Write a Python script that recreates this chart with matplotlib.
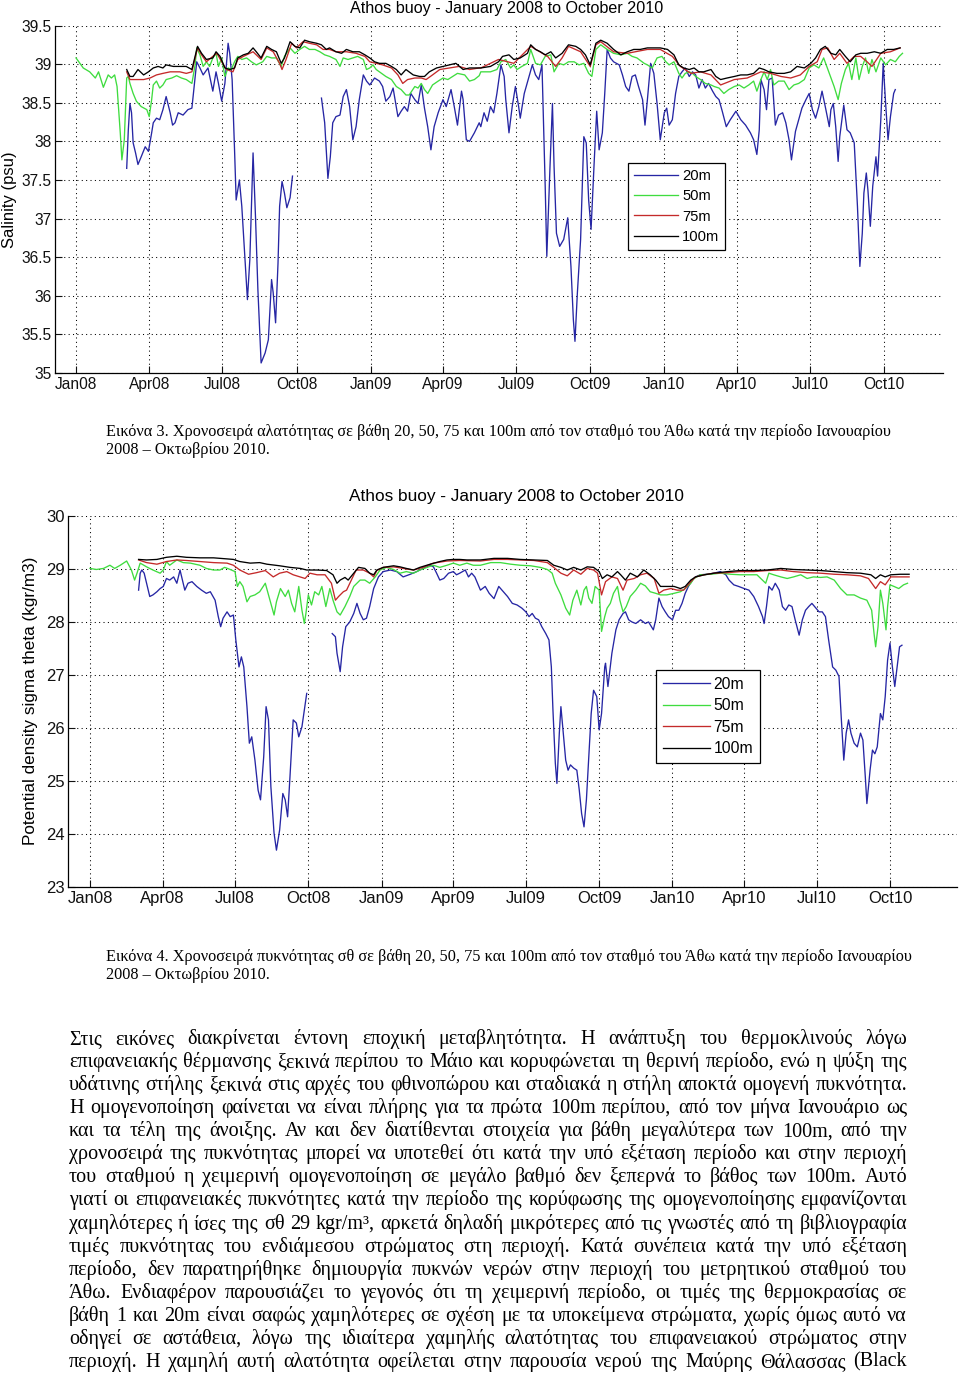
import numpy as np
import matplotlib
matplotlib.use('Agg')
import matplotlib.pyplot as plt
from matplotlib.lines import Line2D

plt.rcParams['font.family'] = ['Liberation Sans', 'DejaVu Sans']
NaN = float('nan')

# ---------------- data (day offset from 2008-01-01, value) ----------------
tick_dates = ['2008-01-01', '2008-04-01', '2008-07-01', '2008-10-01', '2009-01-01', '2009-04-01',
              '2009-07-01', '2009-10-01', '2010-01-01', '2010-04-01', '2010-07-01', '2010-10-01']
tick_labels = ['Jan08', 'Apr08', 'Jul08', 'Oct08', 'Jan09', 'Apr09',
               'Jul09', 'Oct09', 'Jan10', 'Apr10', 'Jul10', 'Oct10']
series_labels = ['20m', '50m', '75m', '100m']
series_colors = ['#2626a4', '#3fdc3f', '#c42a2a', '#000000']

sal_20m = [(63,37.65),(65,38.15),(67,38.49),(69,38.37),(71,37.98),(74,37.85),(77,37.70),(81,37.80),(86,37.93),
 (90,37.87),(94,38.11),(96,38.24),(100,38.30),(104,38.28),(108,38.41),(112,38.58),(117,38.37),(120,38.21),
 (123,38.24),(127,38.37),(133,38.34),(139,38.41),(144,38.43),(150,39.03),(154,38.95),(158,38.86),(164,38.95),
 (170,38.65),(174,38.90),(177,38.75),(181,38.52),(185,38.75),(189,39.27),(191,39.14),(194,38.80),(197,37.89),
 (199,37.24),(203,37.50),(206,37.16),(210,36.47),(213,35.95),(216,36.47),(220,37.85),(223,37.03),(226,36.08),
 (230,35.13),(235,35.26),(239,35.43),(243,36.21),(245,36.04),(248,35.65),(251,36.42),(253,37.16),(256,37.48),
 (259,37.33),(262,37.14),(266,37.27),(269,37.55),(287,NaN),
 (305,38.56),(309,38.24),(313,37.52),(316,37.80),(319,38.24),(323,38.32),(328,38.34),(332,38.58),(336,38.67),
 (340,38.45),(344,38.02),(348,38.19),(352,38.54),(357,38.86),(361,38.78),(365,38.73),(371,38.82),(377,38.78),
 (381,38.71),(385,38.52),(390,38.58),(394,38.69),(400,38.32),(404,38.39),(408,38.45),(412,38.39),(416,38.62),
 (421,38.54),(425,38.49),(429,38.73),(433,38.43),(437,38.19),(441,37.89),(445,38.19),(450,38.37),(456,38.54),
 (460,38.45),(466,38.67),(470,38.45),(474,38.21),(479,38.65),(481,38.54),(485,38.02),(489,38.00),(495,38.11),
 (501,38.24),(503,38.19),(507,38.37),(511,38.26),(515,38.45),(519,38.37),(523,38.62),(528,38.99),(532,38.84),
 (534,38.54),(538,38.11),(542,38.45),(546,38.71),(550,38.45),(552,38.30),(557,38.62),(563,38.84),(567,38.99),
 (571,38.86),(575,38.80),(579,38.99),(583,37.42),(585,36.51),(589,37.68),(592,38.49),(594,37.68),(597,36.81),
 (601,36.64),(606,36.73),(611,37.01),(615,36.38),(618,35.69),(620,35.41),(623,36.04),(627,36.73),(631,38.06),
 (634,37.98),(637,37.24),(640,36.86),(644,37.76),(647,38.39),(650,37.89),(654,38.11),(657,38.62),(660,39.19),
 (664,39.08),(668,39.03),(675,38.99),(679,38.86),(683,38.71),(687,38.65),(691,38.84),(695,38.86),(699,38.71),
 (704,38.54),(707,38.21),(710,38.54),(714,39.01),(718,38.88),(722,38.49),(726,38.02),(731,38.37),(734,38.43),
 (737,38.21),(741,38.28),(745,38.62),(749,38.84),(753,38.90),(757,38.95),(762,38.84),(766,38.90),(770,38.86),
 (774,38.69),(778,38.80),(782,38.69),(786,38.75),(791,38.65),(795,38.58),(799,38.54),(803,38.39),(808,38.19),
 (813,38.28),(820,38.39),(826,38.28),(832,38.21),(838,38.11),(842,38.02),(846,37.83),(849,38.15),(851,38.80),
 (855,38.67),(858,38.41),(861,38.80),(865,38.82),(869,38.21),(873,38.34),(878,38.37),(882,38.24),(886,38.02),
 (889,37.76),(894,38.13),(898,38.28),(902,38.43),(907,38.54),(911,38.62),(915,38.41),(919,38.30),(923,38.45),
 (927,38.65),(931,38.45),(936,38.19),(938,38.41),(941,38.49),(944,38.19),(947,37.74),(949,38.06),(954,38.47),
 (958,38.15),(962,38.11),(967,37.98),(971,37.16),(974,36.38),(977,36.81),(979,37.33),(982,37.59),(984,37.37),
 (987,36.90),(990,37.42),(994,37.80),(996,37.55),(1000,38.28),(1003,39.01),(1006,38.49),(1009,38.02),
 (1012,38.32),(1016,38.62),(1018,38.67)]

sal_50m = [(0,39.08),(9,38.95),(17,38.90),(24,38.82),(28,38.90),(34,38.70),(40,38.86),(44,38.82),(48,38.86),
 (51,38.71),(55,38.11),(57,37.76),(60,38.02),(63,38.82),(65,38.84),(67,38.75),(71,38.62),(75,38.52),(81,38.45),
 (88,38.41),(91,38.32),(94,38.54),(96,38.73),(100,38.78),(104,38.69),(108,38.73),(112,38.80),(119,38.82),
 (125,38.85),(131,38.82),(137,38.80),(144,38.75),(148,38.99),(150,39.21),(154,39.12),(158,38.97),(162,39.03),
 (166,38.97),(170,39.08),(174,39.14),(177,38.97),(181,39.08),(185,38.84),(189,38.95),(193,38.93),(197,39.03),
 (201,39.10),(206,39.06),(212,39.08),(218,39.03),(224,38.99),(232,39.03),(237,39.10),(243,39.08),(249,39.08),
 (255,38.97),(259,39.10),(266,39.21),(272,39.14),(278,39.19),(284,39.23),(290,39.19),(297,39.19),(303,39.16),
 (309,39.12),(315,39.10),(323,39.06),(328,38.97),(332,39.08),(338,39.06),(344,39.08),(350,39.10),(357,39.06),
 (361,38.93),(365,38.95),(369,38.99),(373,38.93),(377,38.90),(385,38.84),(392,38.80),(398,38.71),(404,38.67),
 (410,38.60),(414,38.60),(421,38.71),(425,38.69),(429,38.75),(433,38.67),(437,38.62),(443,38.73),(450,38.78),
 (456,38.82),(462,38.80),(468,38.84),(474,38.88),(483,38.86),(489,38.78),(495,38.80),(501,38.85),(503,38.90),
 (515,38.90),(523,38.93),(528,39.03),(534,39.06),(540,38.95),(544,38.99),(548,38.93),(554,38.97),(561,39.01),
 (565,39.19),(571,39.01),(577,38.99),(583,39.10),(590,39.12),(594,38.90),(600,39.01),(606,38.99),(612,39.03),
 (619,39.03),(625,38.99),(631,39.01),(637,38.88),(641,38.84),(646,39.19),(652,39.25),(660,39.19),(668,39.14),
 (677,39.12),(685,39.14),(691,39.10),(697,39.08),(706,39.01),(710,38.99),(716,38.95),(722,39.08),(728,39.10),
 (733,39.03),(737,38.99),(743,39.03),(749,38.88),(753,38.82),(757,38.88),(762,38.90),(766,38.88),(770,38.84),
 (776,38.80),(782,38.75),(789,38.73),(793,38.71),(799,38.69),(805,38.62),(811,38.67),(818,38.71),(824,38.73),
 (830,38.69),(836,38.73),(842,38.78),(846,38.65),(851,38.80),(855,38.90),(859,38.80),(863,38.93),(867,38.73),
 (873,38.78),(880,38.78),(886,38.67),(892,38.73),(898,38.75),(905,38.80),(911,38.95),(917,38.99),(923,38.95),
 (929,39.08),(936,38.88),(942,38.71),(947,38.54),(951,38.75),(956,38.93),(960,39.01),(964,38.80),(969,39.08),
 (973,38.80),(977,38.97),(981,39.08),(985,38.88),(989,39.06),(994,38.90),(1000,39.08),(1006,38.99),
 (1012,39.06),(1018,39.03),(1023,39.10),(1027,39.14)]

sal_75m = [(63,38.90),(67,38.80),(75,38.80),(84,38.80),(92,38.82),(100,38.86),(108,38.88),(117,38.90),(129,38.90),
 (137,38.88),(144,38.90),(148,39.08),(151,39.21),(156,39.12),(162,39.03),(170,39.10),(175,39.14),(181,39.03),
 (187,38.93),(195,38.90),(201,39.06),(208,39.10),(220,39.16),(230,39.06),(237,39.21),(245,39.16),(253,39.01),
 (256,38.93),(261,39.06),(268,39.27),(274,39.21),(282,39.29),(290,39.27),(299,39.25),(307,39.19),(315,39.19),
 (323,39.16),(336,39.16),(348,39.14),(359,39.10),(365,39.03),(373,39.01),(381,38.99),(392,38.95),(400,38.86),
 (406,38.75),(412,38.80),(421,38.82),(429,38.82),(435,38.80),(443,38.86),(452,38.93),(464,38.95),(476,38.97),
 (489,38.93),(501,38.95),(503,38.95),(525,39.06),(544,39.01),(565,39.23),(586,39.10),(596,38.97),(604,39.08),
 (612,39.23),(627,39.16),(639,38.97),(646,39.25),(652,39.29),(668,39.16),(685,39.14),(710,39.19),(726,39.19),
 (741,39.10),(751,38.97),(764,38.88),(776,38.90),(789,38.86),(801,38.73),(818,38.80),(834,38.82),(851,38.90),
 (863,38.88),(876,38.84),(888,38.82),(900,38.86),(911,38.97),(921,39.03),(927,39.19),(934,39.21),(942,39.06),
 (949,39.14),(958,39.01),(967,39.10),(975,39.10),(983,39.03),(989,38.97),(1000,39.14),(1012,39.16),(1024,39.21)]

sal_100m = [(63,38.93),(67,38.84),(71,38.84),(77,38.93),(84,38.86),(90,38.90),(96,38.95),(102,38.97),(108,38.95),
 (112,38.99),(121,38.97),(129,38.97),(137,38.97),(144,38.93),(148,39.10),(151,39.23),(156,39.14),(162,39.06),
 (170,39.08),(174,39.16),(179,39.10),(185,38.95),(191,38.93),(197,38.95),(201,39.08),(208,39.12),(214,39.14),
 (220,39.21),(224,39.16),(230,39.08),(237,39.23),(243,39.19),(249,39.16),(255,39.01),(259,39.08),(266,39.29),
 (272,39.23),(278,39.21),(284,39.31),(290,39.29),(299,39.27),(305,39.25),(311,39.19),(315,39.21),(323,39.16),
 (330,39.14),(336,39.19),(344,39.16),(352,39.16),(359,39.12),(365,39.08),(371,39.03),(377,39.01),(385,39.01),
 (392,38.97),(398,38.93),(404,38.86),(410,38.93),(419,38.86),(427,38.84),(433,38.84),(439,38.90),(448,38.95),
 (456,38.97),(464,38.99),(472,39.01),(481,38.93),(489,38.95),(501,38.95),(503,38.95),(515,38.97),(525,39.03),
 (530,39.10),(538,39.12),(544,39.06),(552,39.08),(561,39.14),(565,39.25),(571,39.19),(577,39.16),(583,39.12),
 (590,39.16),(596,39.08),(604,39.14),(612,39.25),(621,39.23),(627,39.19),(633,39.12),(639,38.99),(646,39.27),
 (652,39.31),(660,39.27),(668,39.19),(677,39.12),(685,39.16),(693,39.19),(701,39.19),(710,39.21),(718,39.21),
 (726,39.21),(735,39.19),(743,39.12),(749,38.99),(755,38.95),(762,38.93),(768,38.95),(774,38.90),(780,38.90),
 (789,38.93),(795,38.84),(801,38.80),(809,38.82),(818,38.84),(826,38.86),(834,38.86),(842,38.88),(849,38.95),
 (855,38.93),(861,38.90),(871,38.88),(880,38.88),(888,38.90),(896,38.97),(905,38.95),(913,39.01),(919,39.08),
 (925,39.19),(931,39.23),(938,39.14),(944,39.12),(949,39.19),(956,39.10),(962,39.03),(969,39.12),(975,39.14),
 (983,39.14),(992,39.16),(1000,39.14),(1008,39.19),(1016,39.19),(1024,39.21)]

den_20m = [(61,28.60),(63,28.92),(65,28.98),(68,28.92),(71,28.73),(75,28.48),(79,28.51),(84,28.57),(88,28.63),
 (92,28.67),(96,28.82),(100,28.79),(105,28.85),(109,28.73),(113,28.98),(116,28.79),(119,28.60),(123,28.73),
 (128,28.76),(134,28.67),(140,28.60),(146,28.54),(151,28.57),(157,28.41),(161,28.10),(164,27.91),(167,28.07),
 (172,28.19),(176,28.10),(180,28.13),(183,27.66),(185,27.41),(187,27.15),(190,27.34),(193,27.15),(197,26.40),
 (200,25.71),(203,25.83),(207,25.39),(211,24.82),(214,24.64),(218,25.45),(221,26.40),(224,26.15),(227,24.89),
 (231,24.01),(234,23.69),(238,24.07),(242,24.76),(245,24.64),(248,24.32),(251,25.08),(255,26.15),(259,26.09),
 (262,25.83),(266,26.02),(269,26.34),(272,26.65),(288,NaN),
 (304,27.78),(308,27.72),(310,27.41),(314,27.06),(317,27.53),(321,27.91),(326,28.00),(331,28.16),(335,28.35),
 (339,28.16),(343,28.04),(347,28.07),(351,28.29),(356,28.63),(362,28.85),(368,28.95),(377,28.98),(385,28.95),
 (393,28.85),(402,28.90),(410,28.95),(418,29.01),(427,29.07),(431,29.04),(435,28.92),(439,28.79),(444,28.82),
 (450,28.92),(456,28.95),(460,28.89),(464,28.92),(471,28.98),(475,28.85),(479,28.92),(483,28.85),(490,28.60),
 (496,28.67),(501,28.54),(507,28.44),(513,28.67),(517,28.60),(524,28.48),(530,28.35),(536,28.32),(542,28.26),
 (547,28.19),(551,28.10),(555,28.16),(559,28.07),(563,28.04),(567,27.91),(572,27.78),(576,27.66),(579,27.15),
 (581,26.34),(584,25.33),(586,24.95),(589,25.90),(591,26.40),(594,25.90),(597,25.39),(600,25.20),(603,25.30),
 (607,25.24),(611,25.20),(614,24.83),(617,24.38),(620,24.13),(623,24.64),(626,25.45),(629,26.27),(632,26.71),
 (636,26.59),(639,25.96),(642,26.27),(646,27.15),(647,27.22),(650,26.78),(652,27.03),(655,27.41),(660,27.85),
 (664,28.04),(669,28.16),(672,28.19),(676,28.04),(680,28.00),(685,27.97),(691,28.04),(697,27.97),(701,28.00),
 (707,27.85),(710,28.04),(714,28.45),(718,28.29),(722,28.19),(726,28.10),(731,28.04),(735,28.22),(739,28.22),
 (743,28.35),(747,28.54),(751,28.67),(756,28.79),(760,28.85),(766,28.89),(775,28.90),(783,28.92),(791,28.95),
 (798,28.89),(802,28.79),(808,28.70),(814,28.67),(821,28.63),(827,28.60),(833,28.48),(839,28.29),(844,28.10),
 (846,27.97),(849,28.29),(852,28.67),(856,28.60),(860,28.73),(865,28.60),(869,28.29),(873,28.22),(877,28.32),
 (881,28.29),(885,28.04),(890,27.75),(894,28.04),(898,28.22),(902,28.29),(906,28.35),(911,28.26),(915,28.19),
 (919,28.19),(923,28.10),(927,27.66),(932,27.15),(936,27.09),(940,26.97),(943,26.15),(946,25.39),(949,25.90),
 (952,26.15),(955,25.90),(959,25.71),(963,25.64),(967,25.90),(970,25.77),(973,25.08),(975,24.57),(979,25.20),
 (982,25.58),(985,25.51),(988,25.64),(992,26.27),(995,26.15),(998,26.59),(1001,27.28),(1004,27.60),
 (1007,27.15),(1010,26.78),(1013,27.15),(1016,27.53),(1019,27.56)]

den_50m = [(0,29.01),(8,28.99),(17,29.01),(25,29.07),(31,29.01),(38,29.07),(46,29.15),(52,28.98),(56,28.79),
 (59,28.92),(63,29.11),(71,29.04),(79,28.98),(88,28.92),(92,28.98),(96,29.14),(100,29.07),(109,29.17),
 (117,29.12),(126,29.11),(138,29.07),(146,29.01),(155,28.98),(163,28.98),(169,29.03),(176,28.99),(182,28.95),
 (185,28.67),(188,28.76),(192,28.67),(197,28.38),(201,28.48),(207,28.51),(213,28.57),(220,28.73),(224,28.51),
 (228,28.29),(231,28.13),(234,28.38),(239,28.63),(245,28.48),(249,28.60),(253,28.35),(257,28.19),(262,28.67),
 (266,28.22),(269,27.97),(271,28.16),(274,28.51),(278,28.32),(282,28.57),(287,28.51),(291,28.67),(296,28.29),
 (301,28.63),(305,28.41),(310,28.19),(314,28.13),(320,28.29),(326,28.48),(331,28.67),(339,28.79),(345,28.79),
 (351,28.73),(358,28.85),(364,28.98),(372,29.03),(381,28.99),(389,28.92),(397,28.95),(406,28.92),(414,28.98),
 (423,29.03),(431,29.07),(439,29.03),(448,29.07),(456,29.11),(464,29.07),(473,29.11),(481,29.07),(490,29.07),
 (503,29.12),(515,29.12),(528,29.09),(540,29.07),(553,29.06),(565,29.03),(574,28.99),(580,28.92),(584,28.73),
 (591,28.51),(597,28.26),(602,28.13),(606,28.41),(611,28.60),(616,28.32),(620,28.60),(623,28.67),(626,28.45),
 (630,28.35),(634,28.67),(639,28.60),(642,27.82),(646,28.10),(649,28.26),(653,28.35),(657,28.54),(662,28.67),
 (665,28.41),(669,28.19),(673,28.29),(678,28.48),(685,28.60),(691,28.73),(697,28.68),(703,28.57),(710,28.54),
 (716,28.51),(724,28.51),(733,28.54),(741,28.57),(747,28.63),(754,28.73),(758,28.82),(766,28.89),(779,28.90),
 (791,28.92),(804,28.90),(816,28.89),(829,28.89),(837,28.89),(844,28.79),(848,28.73),(852,28.92),(858,28.89),
 (867,28.85),(875,28.82),(883,28.85),(892,28.89),(900,28.82),(908,28.85),(917,28.84),(925,28.85),(934,28.79),
 (942,28.63),(950,28.51),(959,28.51),(967,28.45),(975,28.41),(981,28.22),(984,27.78),(986,27.53),(989,27.91),
 (992,28.60),(995,28.35),(999,27.85),(1001,28.29),(1004,28.70),(1009,28.67),(1015,28.63),(1021,28.70),
 (1026,28.73)]

den_75m = [(61,29.17),(71,29.12),(84,29.09),(96,29.14),(109,29.17),(121,29.16),(138,29.14),(155,29.12),(172,29.11),
 (180,29.07),(188,28.98),(199,28.90),(209,28.93),(220,28.97),(230,28.85),(238,28.92),(247,28.95),(255,28.89),
 (270,28.82),(276,28.92),(285,28.89),(295,28.89),(303,28.73),(308,28.41),(312,28.48),(318,28.57),(322,28.60),
 (328,28.79),(334,28.98),(343,28.98),(351,28.92),(356,28.85),(360,28.97),(368,29.03),(381,29.04),(393,29.01),
 (406,28.98),(418,29.03),(431,29.11),(448,29.15),(464,29.16),(490,29.15),(507,29.18),(524,29.18),(540,29.17),
 (557,29.16),(574,29.12),(582,29.03),(591,28.92),(599,28.87),(607,28.98),(616,28.90),(624,29.01),(632,28.98),
 (637,28.92),(642,28.51),(647,28.76),(655,28.85),(662,28.82),(669,28.60),(674,28.79),(683,28.82),(691,28.89),
 (699,28.92),(708,28.82),(714,28.54),(720,28.60),(729,28.63),(737,28.60),(745,28.60),(754,28.76),(760,28.85),
 (771,28.89),(783,28.92),(800,28.93),(816,28.95),(833,28.95),(850,28.97),(867,28.98),(883,28.95),(900,28.93),
 (917,28.92),(934,28.90),(950,28.89),(967,28.87),(977,28.82),(986,28.63),(992,28.76),(998,28.70),(1005,28.85),
 (1017,28.85),(1028,28.85)]

den_100m = [(61,29.18),(71,29.17),(84,29.18),(96,29.22),(109,29.24),(121,29.22),(138,29.21),(155,29.21),(172,29.19),
 (180,29.18),(188,29.14),(201,29.11),(213,29.12),(222,29.09),(238,29.06),(251,29.03),(264,29.01),(272,28.98),
 (285,28.98),(297,28.97),(305,28.89),(310,28.73),(314,28.79),(320,28.84),(324,28.79),(331,28.92),(337,29.03),
 (345,29.01),(351,28.92),(356,28.89),(360,28.98),(368,29.03),(381,29.06),(389,29.04),(397,29.01),(406,28.98),
 (414,29.03),(427,29.09),(439,29.14),(448,29.17),(456,29.18),(464,29.18),(473,29.17),(490,29.17),(507,29.20),
 (524,29.20),(540,29.18),(557,29.17),(574,29.16),(582,29.07),(591,29.03),(599,28.98),(607,29.03),(616,28.98),
 (624,29.04),(632,29.03),(639,28.95),(643,28.82),(649,28.89),(655,28.85),(662,28.95),(666,28.89),(672,28.79),
 (678,28.92),(687,28.85),(695,28.98),(703,28.89),(710,28.79),(716,28.67),(724,28.67),(733,28.67),(741,28.63),
 (747,28.67),(754,28.79),(760,28.85),(771,28.89),(783,28.92),(800,28.95),(816,28.97),(833,28.97),(850,28.98),
 (867,29.01),(883,28.99),(900,28.98),(917,28.97),(934,28.95),(950,28.93),(967,28.92),(980,28.89),(986,28.82),
 (992,28.89),(998,28.85),(1005,28.89),(1017,28.90),(1028,28.90)]

sal_yticks = [35, 35.5, 36, 36.5, 37, 37.5, 38, 38.5, 39, 39.5]
den_yticks = [23, 24, 25, 26, 27, 28, 29, 30]

title_text = 'Athos buoy - January 2008 to October 2010'
sal_ylabel = 'Salinity (psu)'
den_ylabel = 'Potential density sigma theta (kgr/m3)'

caption3 = ['Εικόνα 3. Χρονοσειρά αλατότητας σε βάθη 20, 50, 75 και 100m από τον σταθμό του Άθω κατά την περίοδο Ιανουαρίου',
            '2008 – Οκτωβρίου 2010.']
caption4 = ['Εικόνα 4. Χρονοσειρά πυκνότητας σθ σε βάθη 20, 50, 75 και 100m από τον σταθμό του Άθω κατά την περίοδο Ιανουαρίου',
            '2008 – Οκτωβρίου 2010.']
paragraph = [
 'Στις εικόνες διακρίνεται έντονη εποχική μεταβλητότητα. Η ανάπτυξη του θερμοκλινούς λόγω',
 'επιφανειακής θέρμανσης ξεκινά περίπου το Μάιο και κορυφώνεται τη θερινή περίοδο, ενώ η ψύξη της',
 'υδάτινης στήλης ξεκινά στις αρχές του φθινοπώρου και σταδιακά η στήλη αποκτά ομογενή πυκνότητα.',
 'Η ομογενοποίηση φαίνεται να είναι πλήρης για τα πρώτα 100m περίπου, από τον μήνα Ιανουάριο ως',
 'και τα τέλη της άνοιξης. Αν και δεν διατίθενται στοιχεία για βάθη μεγαλύτερα των 100m, από την',
 'χρονοσειρά της πυκνότητας μπορεί να υποτεθεί ότι κατά την υπό εξέταση περίοδο και στην περιοχή',
 'του σταθμού η χειμερινή ομογενοποίηση σε μεγάλο βαθμό δεν ξεπερνά το βάθος των 100m. Αυτό',
 'γιατί οι επιφανειακές πυκνότητες κατά την περίοδο της κορύφωσης της ομογενοποίησης εμφανίζονται',
 'χαμηλότερες ή ίσες της σθ 29 kgr/m³, αρκετά δηλαδή μικρότερες από τις γνωστές από τη βιβλιογραφία',
 'τιμές πυκνότητας του ενδιάμεσου στρώματος στη περιοχή. Κατά συνέπεια κατά την υπό εξέταση',
 'περίοδο, δεν παρατηρήθηκε δημιουργία πυκνών νερών στην περιοχή του μετρητικού σταθμού του',
 'Άθω. Ενδιαφέρον παρουσιάζει το γεγονός ότι τη χειμερινή περίοδο, οι τιμές της θερμοκρασίας σε',
 'βάθη 1 και 20m είναι σαφώς χαμηλότερες σε σχέση με τα υποκείμενα στρώματα, χωρίς όμως αυτό να',
 'οδηγεί σε αστάθεια, λόγω της ιδιαίτερα χαμηλής αλατότητας του επιφανειακού στρώματος στην',
 'περιοχή. Η χαμηλή αυτή αλατότητα οφείλεται στην παρουσία νερού της Μαύρης Θάλασσας (Black',
]

# ---------------- figure ----------------
W, H = 960, 1374
fig = plt.figure(figsize=(W / 100, H / 100), dpi=100)
fig.patch.set_facecolor('white')
BASE = np.datetime64('2008-01-01')
tick_days = [int((np.datetime64(d) - BASE).astype(int)) for d in tick_dates]


def px_axes(left, top, right, bottom):
    return fig.add_axes([left / W, 1 - bottom / H, (right - left) / W, (bottom - top) / H])


def draw_chart(ax, data, yticks, ylim, xlim, fs):
    for d, c in zip(data, series_colors):
        arr = np.array(d, dtype=float)
        ax.plot(arr[:, 0], arr[:, 1], color=c, lw=0.95)
    ax.set_xlim(*xlim)
    ax.set_ylim(*ylim)
    ax.set_xticks(tick_days)
    ax.set_xticklabels(tick_labels)
    ax.set_yticks(yticks)
    ax.set_yticklabels(['%g' % v for v in yticks])
    for s in ('top', 'right'):
        ax.spines[s].set_visible(False)
    for s in ('left', 'bottom'):
        ax.spines[s].set_linewidth(0.9)
    ax.tick_params(direction='in', length=5, width=0.8, labelsize=fs, colors='#111111')
    ax.tick_params(axis='y', pad=2.5)
    ax.tick_params(axis='x', pad=3)
    ax.grid(True, linestyle=(0, (1, 3.2)), color='black', lw=0.75)
    ax.set_axisbelow(True)


handles = [Line2D([0], [0], color=c, lw=0.95) for c in series_colors]

# chart 1 : salinity
ax1 = px_axes(55, 25.5, 943, 373)
draw_chart(ax1, [sal_20m, sal_50m, sal_75m, sal_100m], sal_yticks, (35, 39.5), (-26.1, 1077.3), 11.2)
fig.text(507 / W, 1 - 9 / H, title_text, ha='center', va='center', fontsize=11.6)
fig.text(10 / W, 1 - 200 / H, sal_ylabel, rotation=90, ha='center', va='center', fontsize=12)
leg1 = ax1.legend(handles, series_labels, loc='upper left', bbox_to_anchor=(628 / W, 1 - 163 / H),
                  bbox_transform=fig.transFigure, fancybox=False, edgecolor='black', framealpha=1,
                  fontsize=10.6, handlelength=3.0, handletextpad=0.25, labelspacing=0.42,
                  borderpad=0.42, borderaxespad=0)
leg1.get_frame().set_linewidth(0.9)

# chart 2 : density
ax2 = px_axes(68, 516, 957, 886.7)
draw_chart(ax2, [den_20m, den_50m, den_75m, den_100m], den_yticks, (23, 30), (-27.6, 1088.1), 12)
fig.text(516 / W, 1 - 497 / H, title_text, ha='center', va='center', fontsize=12.4)
fig.text(31 / W, 1 - 701 / H, den_ylabel, rotation=90, ha='center', va='center', fontsize=12.3)
leg2 = ax2.legend(handles, series_labels, loc='upper left', bbox_to_anchor=(656 / W, 1 - 670 / H),
                  bbox_transform=fig.transFigure, fancybox=False, edgecolor='black', framealpha=1,
                  fontsize=11.3, handlelength=3.0, handletextpad=0.25, labelspacing=0.42,
                  borderpad=0.42, borderaxespad=0)
leg2.get_frame().set_linewidth(0.9)

# ---------------- text ----------------
renderer = fig.canvas.get_renderer()
SERIF = ['Liberation Serif', 'DejaVu Serif']


def measure(s, size):
    t = fig.text(0, 0, s, fontsize=size, family=SERIF)
    w = t.get_window_extent(renderer).width
    t.remove()
    return w


# captions: size chosen so the first line of caption 4 spans 106..905 px
ref = 10.0
cap_size = ref * (905 - 106) / measure(caption4[0], ref)
for lines, y0 in ((caption3, 431), (caption4, 956)):
    for i, s in enumerate(lines):
        fig.text(106 / W, 1 - (y0 + 18 * i + 5) / H, s, fontsize=cap_size, family=SERIF,
                 ha='left', va='baseline')

# justified paragraph between x = 69 and x = 907
x0, x1 = 69, 907
nat = max(measure(s, ref) for s in paragraph)
par_size = ref * (x1 - x0) * 0.99 / nat
for i, line in enumerate(paragraph):
    words = line.split(' ')
    ws = [measure(w, par_size) for w in words]
    gap = (x1 - x0 - sum(ws)) / (len(words) - 1)
    x = x0
    yb = 1038 + 23.07 * i + 6
    for w, wd in zip(words, ws):
        fig.text(x / W, 1 - yb / H, w, fontsize=par_size, family=SERIF, ha='left', va='baseline')
        x += wd + gap

fig.savefig('out.png', dpi=100, facecolor='white')
